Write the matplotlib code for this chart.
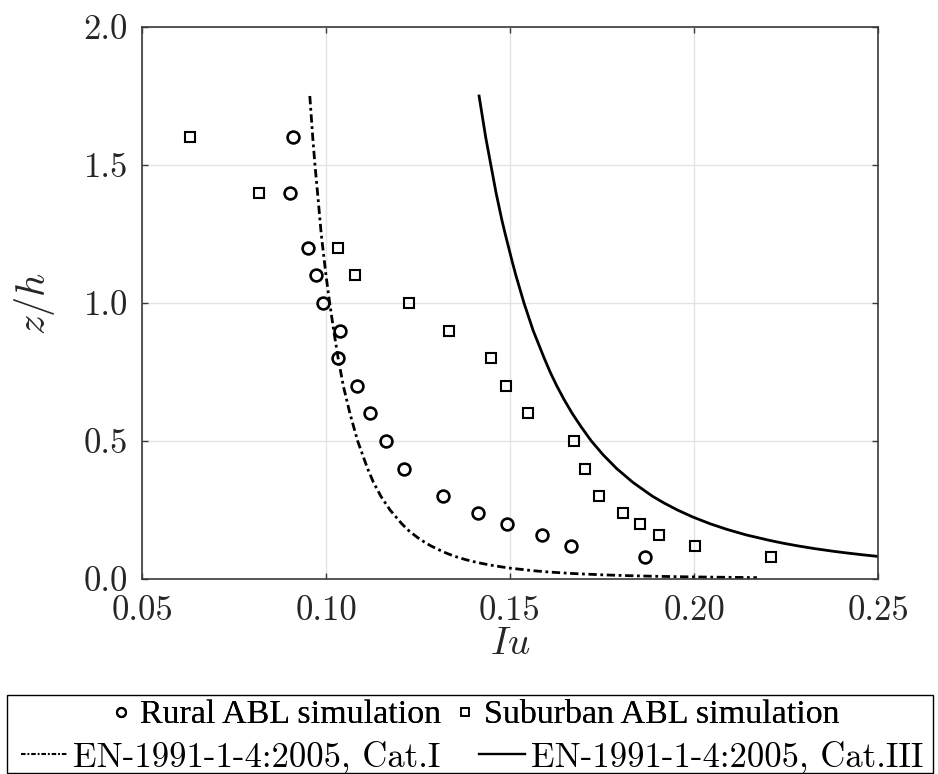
import numpy as np
import matplotlib
matplotlib.use('Agg')
import matplotlib.pyplot as plt
from matplotlib.lines import Line2D
from matplotlib.patches import Rectangle

plt.rcParams['font.family'] = 'serif'
plt.rcParams['font.serif'] = ['cmr10']
plt.rcParams['mathtext.fontset'] = 'cm'
plt.rcParams['axes.formatter.use_mathtext'] = True

# simulation points
rural_z = [1.6, 1.4, 1.2, 1.1, 1.0, 0.9, 0.8, 0.7, 0.6, 0.5, 0.4, 0.3, 0.24, 0.2, 0.16, 0.12, 0.08]
rural_iu = [0.0911, 0.0901, 0.0952, 0.0972, 0.0991, 0.1038, 0.1033, 0.1083, 0.1119, 0.1164,
            0.1212, 0.1317, 0.1414, 0.1492, 0.1587, 0.1667, 0.1868]
suburban_z = [1.6, 1.4, 1.2, 1.1, 1.0, 0.9, 0.8, 0.7, 0.6, 0.5, 0.4, 0.3, 0.24, 0.2, 0.16, 0.12, 0.08]
suburban_iu = [0.0630, 0.0818, 0.1032, 0.1080, 0.1226, 0.1334, 0.1448, 0.1488, 0.1548, 0.1673,
               0.1703, 0.1743, 0.1806, 0.1854, 0.1906, 0.2004, 0.2209]

# Eurocode profiles, points
cat1_z = [1.75, 1.6, 1.5, 1.4, 1.25, 1.1, 1.0, 0.9, 0.8, 0.7, 0.6, 0.5, 0.4, 0.35, 0.3, 0.25,
          0.2, 0.175, 0.15, 0.135, 0.12, 0.1, 0.09, 0.08, 0.07, 0.06, 0.05, 0.04, 0.03, 0.025,
          0.02, 0.015, 0.0125, 0.01, 0.0075, 0.005]
cat1_iu = [0.0956, 0.0964, 0.0970, 0.0977, 0.0987, 0.1000, 0.1010, 0.1021, 0.1033, 0.1047,
           0.1065, 0.1086, 0.1113, 0.1129, 0.1149, 0.1174, 0.1206, 0.1225, 0.1249, 0.1266,
           0.1285, 0.1316, 0.1334, 0.1355, 0.1380, 0.1410, 0.1448, 0.1496, 0.1563, 0.1609,
           0.1669, 0.1753, 0.1811, 0.1887, 0.1996, 0.2171]
cat3_z = [1.75, 1.6, 1.5, 1.4, 1.3, 1.25, 1.15, 1.1, 1.0, 0.9, 0.8, 0.75, 0.7, 0.65, 0.6,
          0.55, 0.5, 0.45, 0.4, 0.35, 0.3, 0.275, 0.25, 0.225, 0.2, 0.18, 0.16, 0.14, 0.13,
          0.12, 0.11, 0.1, 0.095, 0.088, 0.082]
cat3_iu = [0.1416, 0.1434, 0.1448, 0.1462, 0.1478, 0.1487, 0.1506, 0.1516, 0.1538, 0.1563,
           0.1593, 0.1609, 0.1627, 0.1647, 0.1669, 0.1694, 0.1721, 0.1753, 0.1790, 0.1834,
           0.1887, 0.1919, 0.1955, 0.1996, 0.2044, 0.2089, 0.2141, 0.2205, 0.2241, 0.2282,
           0.2328, 0.2381, 0.2411, 0.2456, 0.2499]

xticks = [0.05, 0.10, 0.15, 0.20, 0.25]
xticklabels = ['0.05', '0.10', '0.15', '0.20', '0.25']
yticks = [0.0, 0.5, 1.0, 1.5, 2.0]
yticklabels = ['0.0', '0.5', '1.0', '1.5', '2.0']

labels = ['Rural ABL simulation', 'Suburban ABL simulation',
          'EN-1991-1-4:2005, Cat.I', 'EN-1991-1-4:2005, Cat.III']

fig = plt.figure(figsize=(9.38, 7.74), dpi=100)
ax = fig.add_axes([142/938, 1-579/774, 736/938, 552/774])

dashdot = (0, (3.0, 1.3, 1.0, 1.3))
ax.plot(cat1_iu, cat1_z, color='k', lw=2.0, ls=dashdot)
ax.plot(cat3_iu, cat3_z, color='k', lw=2.0, solid_joinstyle='round')
ax.plot(rural_iu, rural_z, ls='none', marker='o', ms=8.5, mfc='none', mec='k', mew=1.9)
ax.plot(suburban_iu, suburban_z, ls='none', marker='s', ms=7.5, mfc='none', mec='k', mew=1.5)

ax.set_xlim(0.05, 0.25)
ax.set_ylim(0, 2)
ax.set_xticks(xticks)
ax.set_xticklabels(xticklabels)
ax.set_yticks(yticks)
ax.set_yticklabels(yticklabels)
ax.grid(True, color='#e3e3e3', lw=1.0)
ax.set_axisbelow(True)
for s in ax.spines.values():
    s.set_color('#3a3a3a')
    s.set_linewidth(1.2)
ax.tick_params(direction='in', length=4.5, width=1.0, color='#3a3a3a',
               top=True, right=True, labelsize=25, labelcolor='#262626')
ax.tick_params(axis='x', pad=12)
ax.tick_params(axis='y', pad=10)

ax.set_xlabel('$Iu$', fontsize=28, color='#262626')
ax.set_ylabel('$z/h$', fontsize=29, color='#262626')
ax.xaxis.set_label_coords(0.5, -0.085)
ax.yaxis.set_label_coords(-0.115, 0.5)

# legend frame below the axes
fig.patches.append(Rectangle((7/938, 1/774), 926/938, 78/774, transform=fig.transFigure,
                             fill=False, ec='k', lw=1.0))

h1 = [Line2D([], [], ls='none', marker='o', ms=6.5, mfc='none', mec='k', mew=1.5),
      Line2D([], [], ls='none', marker='s', ms=5.5, mfc='none', mec='k', mew=1.2)]
leg1 = fig.legend(h1, labels[:2], loc='center', bbox_to_anchor=(476/938, 1-715/774),
                  ncol=2, frameon=False, handlelength=0.5, handletextpad=0.3,
                  columnspacing=0.45, borderpad=0, borderaxespad=0,
                  prop={'family': 'Liberation Serif', 'size': 24.5})

h2 = [Line2D([], [], color='k', lw=1.5, ls=(0, (2.2, 0.9, 0.9, 0.9))),
      Line2D([], [], color='k', lw=1.7)]
leg2 = fig.legend(h2, labels[2:], loc='center', bbox_to_anchor=(472/938, 1-757/774),
                  ncol=2, frameon=False, handlelength=1.35, handletextpad=0.15,
                  columnspacing=1.1, borderpad=0, borderaxespad=0,
                  prop={'family': 'cmr10', 'size': 25})
fig.add_artist(leg1)

fig.savefig('out.png', dpi=100)
